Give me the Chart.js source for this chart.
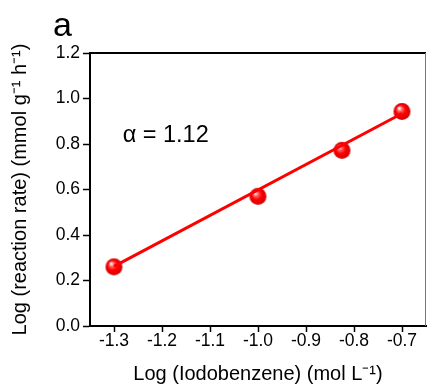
<!DOCTYPE html>
<html>
<head>
<meta charset="utf-8">
<script src="https://cdn.jsdelivr.net/npm/chart.js@4/dist/chart.umd.min.js"></script>
<style>
  html, body { margin: 0; padding: 0; background: #fff; }
  #wrap { width: 427px; height: 387px; }
</style>
</head>
<body>
<div id="wrap"><canvas id="myChart" width="427" height="387"></canvas></div>
<script>
// data
const logConc = [-1.3, -1.0, -0.825, -0.7];
const logRate = [0.26, 0.57, 0.772, 0.943];
// fitted line end points (slope 1.12)
const fitX = [-1.3, -0.7];
const fitY = [0.262, 0.934];
const xTicks = [-1.3, -1.2, -1.1, -1.0, -0.9, -0.8, -0.7];
const yTicks = [0.0, 0.2, 0.4, 0.6, 0.8, 1.0, 1.2];

const FONT = "'Liberation Sans', Arial, sans-serif";

// shiny red ball used as point style
function makeBall(r) {
  const c = document.createElement('canvas');
  c.width = c.height = r * 2 + 2;
  const g = c.getContext('2d');
  const cx = r + 1, cy = r + 1;
  const grad = g.createRadialGradient(cx - r * 0.35, cy - r * 0.4, 0.5, cx, cy, r);
  grad.addColorStop(0, '#ffffff');
  grad.addColorStop(0.25, '#ff6060');
  grad.addColorStop(0.55, '#ff0000');
  grad.addColorStop(1, '#d00000');
  g.fillStyle = grad;
  g.beginPath();
  g.arc(cx, cy, r, 0, Math.PI * 2);
  g.fill();
  return c;
}
const ball = makeBall(8.5);

const frame = {
  id: 'frame',
  afterDatasetsDraw(chart) {
    const { ctx, chartArea: a, scales } = chart;
    ctx.save();
    ctx.strokeStyle = '#000';
    ctx.lineWidth = 2;
    ctx.beginPath();
    ctx.moveTo(a.left, a.top);
    ctx.lineTo(a.right, a.top);
    ctx.stroke();
    ctx.strokeStyle = '#777';
    ctx.lineWidth = 1;
    ctx.beginPath();
    ctx.moveTo(a.right - 0.5, a.top);
    ctx.lineTo(a.right - 0.5, a.bottom);
    ctx.stroke();

    ctx.fillStyle = '#000';
    ctx.font = '34px ' + FONT;
    ctx.textBaseline = 'alphabetic';
    ctx.fillText('a', 53, 36);

    ctx.font = '23.5px ' + FONT;
    ctx.fillText('\u03b1 = 1.12', scales.x.getPixelForValue(-1.282), scales.y.getPixelForValue(0.81));
    ctx.restore();
  }
};

new Chart(document.getElementById('myChart'), {
  type: 'scatter',
  data: {
    datasets: [
      {
        type: 'line',
        data: fitX.map((x, i) => ({ x: x, y: fitY[i] })),
        borderColor: '#ff0000',
        borderWidth: 3,
        pointRadius: 0,
        fill: false
      },
      {
        data: logConc.map((x, i) => ({ x: x, y: logRate[i] })),
        pointStyle: ball,
        pointRadius: 9
      }
    ]
  },
  options: {
    responsive: false,
    animation: false,
    layout: { autoPadding: false, padding: { top: 53, right: 1, left: 0, bottom: 0 } },
    plugins: { legend: { display: false }, tooltip: { enabled: false } },
    scales: {
      x: {
        type: 'linear',
        min: -1.35,
        max: -0.65,
        afterBuildTicks: s => { s.ticks = xTicks.map(v => ({ value: v })); },
        afterFit: s => { s.height = 61; s.paddingLeft = 0; s.paddingRight = 0; },
        grid: { drawOnChartArea: false, tickLength: 6, tickColor: '#000', tickWidth: 1.5 },
        border: { color: '#000', width: 2 },
        ticks: {
          color: '#000', padding: -1, maxRotation: 0,
          font: { family: FONT, size: 17.5 },
          callback: v => v.toFixed(1)
        },
        title: {
          display: true,
          text: 'Log (Iodobenzene) (mol L\u207b\u00b9)',
          color: '#000',
          font: { family: FONT, size: 20 },
          padding: { top: 0, bottom: 1 }
        }
      },
      y: {
        min: 0,
        max: 1.2,
        afterBuildTicks: s => { s.ticks = yTicks.map(v => ({ value: v })); },
        afterFit: s => { s.width = 90; s.paddingTop = 0; s.paddingBottom = 0; },
        grid: { drawOnChartArea: false, tickLength: 7, tickColor: '#000', tickWidth: 1.5 },
        border: { color: '#000', width: 2 },
        ticks: {
          color: '#000', padding: 3,
          font: { family: FONT, size: 17.5 },
          callback: v => v.toFixed(1)
        },
        title: {
          display: true,
          text: 'Log (reaction rate) (mmol g\u207b\u00b9 h\u207b\u00b9)',
          color: '#000',
          font: { family: FONT, size: 20 },
          padding: { top: 8, bottom: 0 }
        }
      }
    }
  },
  plugins: [frame]
});
</script>
</body>
</html>
